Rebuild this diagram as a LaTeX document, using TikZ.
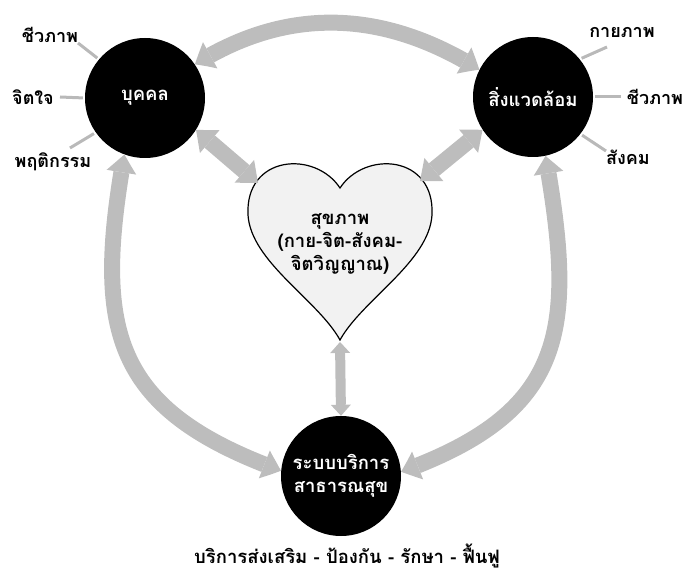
\documentclass[tikz,border=0pt]{standalone}
\usepackage{fontspec}
\newfontfamily\thai[Script=Thai]{Loma}
\usetikzlibrary{arrows.meta,bending}
\begin{document}
\begin{tikzpicture}[x=1pt,y=-1pt,
  ball/.style={circle,fill=black,minimum size=120pt,inner sep=0pt,text=white,align=center,
    font=\thai\bfseries\fontsize{18.5}{23}\selectfont},
  band/.style={draw=gray!52,line width=16pt,
    {Triangle[length=18pt,width=30pt,line width=0pt,bend]}-{Triangle[length=18pt,width=30pt,line width=0pt,bend]}},
  smallband/.style={draw=gray!52,line width=10pt,
    {Triangle[length=11pt,width=20pt,line width=0pt]}-{Triangle[length=11pt,width=20pt,line width=0pt]}},
  tick/.style={draw=gray!55,line width=3pt,shorten >=2pt},
  lab/.style={font=\thai\bfseries\fontsize{18}{20}\selectfont,inner sep=1pt},
  hearttext/.style={font=\thai\bfseries\fontsize{18.5}{23}\selectfont,align=center}]
\useasboundingbox (0,0) rectangle (685,577);
% heart
\draw[fill=gray!10,line width=1.2pt] (340,188) .. controls (315,150) and (245,155) .. (248,215)
  .. controls (251,262) and (318,300) .. (340,340)
  .. controls (362,300) and (429,262) .. (432,215)
  .. controls (435,155) and (365,150) .. (340,188) -- cycle;
\node[hearttext] (h) at (340,244) {สุขภาพ\\(กาย-จิต-สังคม-\\จิตวิญญาณ)};
\coordinate (hl) at (258,183);
\coordinate (hr) at (420,181);
\coordinate (hb) at (340,342);
% circles
\node[ball] (p) at (145,98) {บุคคล};
\node[ball] (e) at (533,97) {สิ่งแวดล้อม};
\node[ball] (s) at (341,476) {ระบบบริการ\\สาธารณสุข};
% big arrows
\draw[band] (p.34) to[out=32,in=148] (e.153);
\draw[band] (p.-110) to[out=-100,in=160,looseness=1.3] (s.175);
\draw[band] (e.-78) to[out=-80,in=20,looseness=1.3] (s.4);
\draw[band] (p.-32) -- (hl);
\draw[band] (e.-147) -- (hr);
\draw[smallband] (hb) -- (s.north);
% labels
\node[lab] (l1) at (50,35) {ชีวภาพ};
\node[lab] (l2) at (33,97) {จิตใจ};
\node[lab] (l3) at (53,162) {พฤติกรรม};
\node[lab] (r1) at (622,32) {กายภาพ};
\node[lab] (r2) at (655,97) {ชีวภาพ};
\node[lab] (r3) at (628,157) {สังคม};
\coordinate (t1) at (78,43);
\coordinate (t2) at (60,97);
\coordinate (t3) at (70,148);
\coordinate (t4) at (607,47);
\coordinate (t5) at (621,97);
\coordinate (t6) at (606,151);
\draw[tick] (t1) -- (p.140);
\draw[tick] (t2) -- (p.180);
\draw[tick] (t3) -- (p.-145);
\draw[tick] (t4) -- (e.39);
\draw[tick] (t5) -- (e.0);
\draw[tick] (t6) -- (e.-38);
\node[font=\thai\bfseries\fontsize{18.5}{22}\selectfont] (b) at (347,556) {บริการส่งเสริม - ป้องกัน - รักษา - ฟื้นฟู};
\end{tikzpicture}
\end{document}
